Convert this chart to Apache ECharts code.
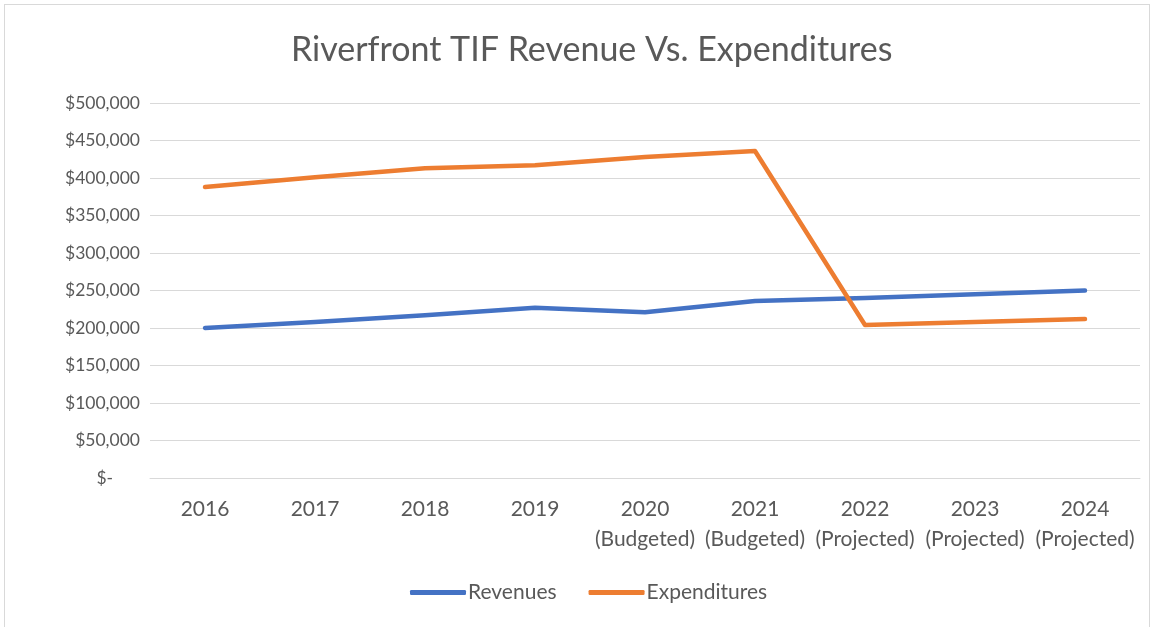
<!DOCTYPE html>
<html>
<head>
<meta charset="utf-8">
<script src="https://cdn.jsdelivr.net/npm/echarts@6/dist/echarts.min.js"></script>
<style>
  html, body { margin: 0; padding: 0; background: #fff; }
  #frame { position: absolute; left: 4px; top: 4px; width: 1146px; height: 630px; border: 1px solid #d9d9d9; box-sizing: border-box; }
  #chart { position: absolute; left: 0; top: 0; width: 1153px; height: 627px; }
</style>
</head>
<body>
<div id="frame"></div>
<div id="chart"></div>
<script>
const categories = ['2016', '2017', '2018', '2019', '2020\n(Budgeted)', '2021\n(Budgeted)', '2022\n(Projected)', '2023\n(Projected)', '2024\n(Projected)'];
const revenues = [200000, 208000, 217000, 227000, 221000, 236000, 240000, 245000, 250000];
const expenditures = [388000, 401000, 413000, 417000, 428000, 436000, 204000, 208000, 212000];
const seriesNames = ['Revenues', 'Expenditures'];
const titleText = 'Riverfront TIF Revenue Vs. Expenditures';

const FONT = 'Lato, "Open Sans", sans-serif';
const chart = echarts.init(document.getElementById('chart'));
chart.setOption({
  animation: false,
  title: {
    text: titleText,
    left: 286,
    top: 28,
    textStyle: { fontFamily: FONT, fontSize: 34, fontWeight: 'normal', color: '#595959' }
  },
  grid: { left: 150, right: 13, top: 103, bottom: 149, containLabel: false },
  legend: {
    data: seriesNames,
    bottom: 19,
    left: 405,
    icon: 'roundRect',
    itemWidth: 56,
    itemHeight: 5,
    itemGap: 32,
    textStyle: { fontFamily: FONT, fontSize: 21, color: '#595959', padding: [0, 0, 0, -3] }
  },
  xAxis: {
    type: 'category',
    data: categories,
    boundaryGap: true,
    axisLine: { show: true, lineStyle: { color: '#d9d9d9', width: 1 } },
    axisTick: { show: false },
    axisLabel: {
      interval: 0,
      margin: 16,
      fontFamily: FONT,
      fontSize: 21,
      color: '#595959',
      lineHeight: 30
    }
  },
  yAxis: {
    type: 'value',
    min: 0,
    max: 500000,
    interval: 50000,
    axisLine: { show: false },
    axisTick: { show: false },
    splitLine: { lineStyle: { color: '#d9d9d9', width: 1 } },
    axisLabel: {
      margin: 10,
      fontFamily: FONT,
      fontSize: 17.5,
      color: '#595959',
      formatter: v => v === 0 ? '$-      ' : '$' + v.toLocaleString('en-US')
    }
  },
  series: [
    {
      name: seriesNames[0], type: 'line', data: revenues,
      symbol: 'none', lineStyle: { color: '#4472C4', width: 4.5, cap: 'round', join: 'round' },
      itemStyle: { color: '#4472C4' }
    },
    {
      name: seriesNames[1], type: 'line', data: expenditures,
      symbol: 'none', lineStyle: { color: '#ED7D31', width: 4.5, cap: 'round', join: 'round' },
      itemStyle: { color: '#ED7D31' }
    }
  ]
});
</script>
</body>
</html>
